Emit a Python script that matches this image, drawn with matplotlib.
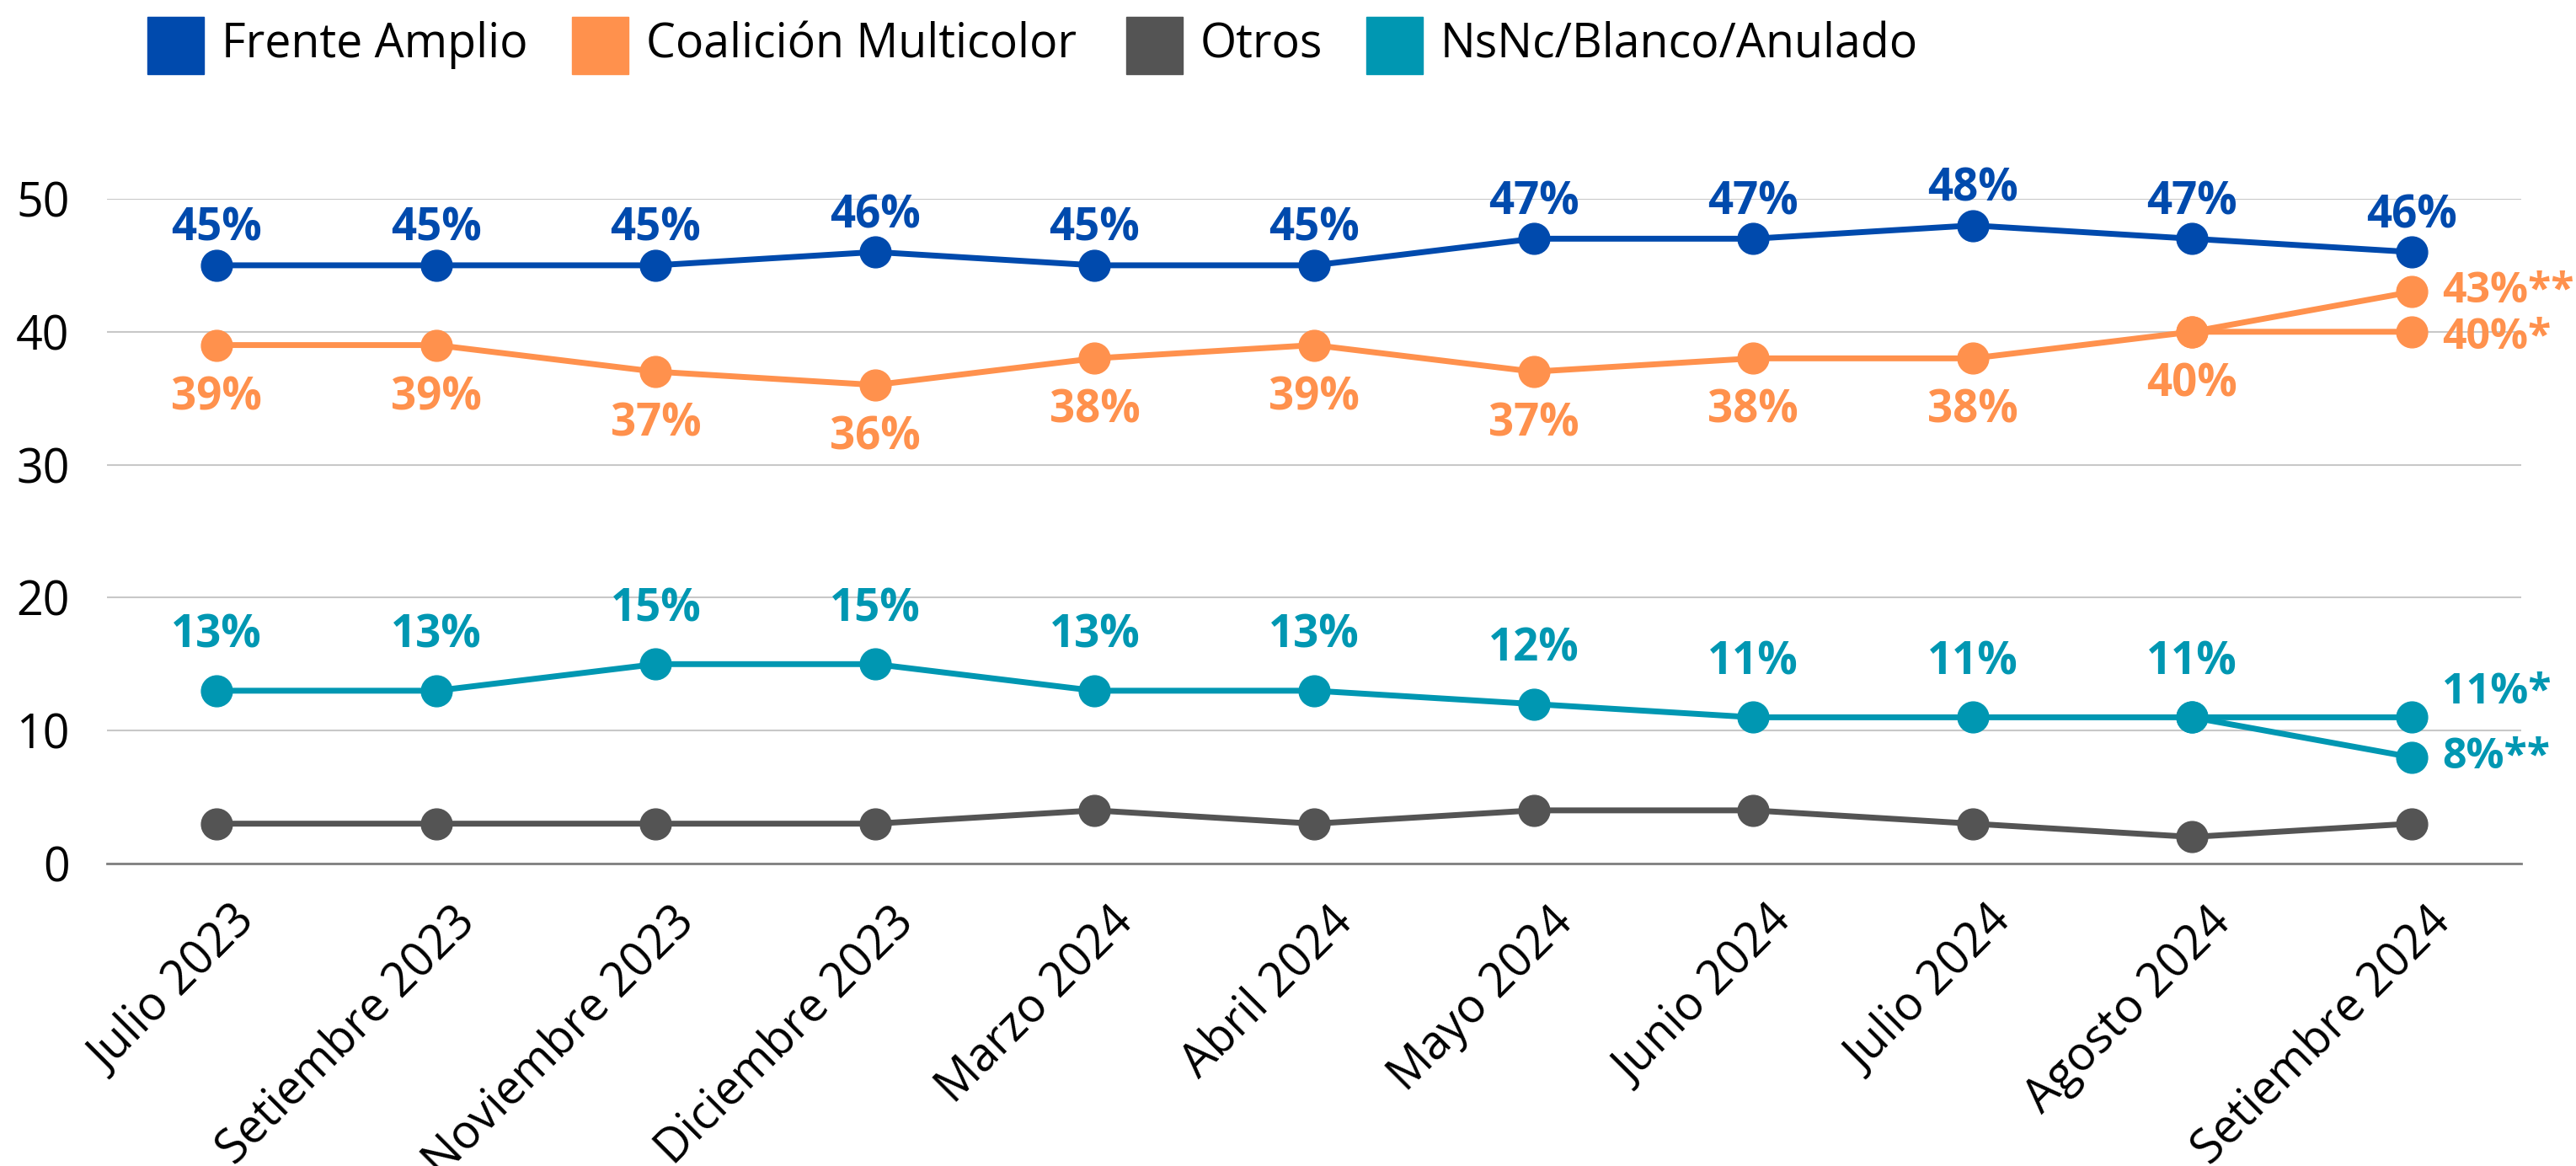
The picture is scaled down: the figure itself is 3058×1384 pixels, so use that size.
import matplotlib
matplotlib.use("Agg")
import matplotlib.pyplot as plt
from matplotlib.patches import Rectangle
from matplotlib.transforms import ScaledTranslation

plt.rcParams['font.family'] = ['Open Sans', 'DejaVu Sans']

categories = ["Julio 2023", "Setiembre 2023", "Noviembre 2023", "Diciembre 2023",
              "Marzo 2024", "Abril 2024", "Mayo 2024", "Junio 2024", "Julio 2024",
              "Agosto 2024", "Setiembre 2024"]
frente_amplio = [45, 45, 45, 46, 45, 45, 47, 47, 48, 47, 46]
coalicion = [39, 39, 37, 36, 38, 39, 37, 38, 38, 40, 40]
otros = [3, 3, 3, 3, 4, 3, 4, 4, 3, 2, 3]
nsnc = [13, 13, 15, 15, 13, 13, 12, 11, 11, 11, 11]
# alternative last values (**)
coalicion_alt_last = 43
nsnc_alt_last = 8

series_names = ["Frente Amplio", "Coalición Multicolor", "Otros", "NsNc/Blanco/Anulado"]
colors = ["#004AAD", "#FF914D", "#545454", "#0097B2"]

W, H = 3058, 1384
fig = plt.figure(figsize=(W / 100, H / 100), dpi=100)
ax = fig.add_axes([127 / W, 1 - 1025 / H, (2993 - 127) / W, (1025 - 236) / H])

x = list(range(len(categories)))
lw = 5
ms = 26.5

# Otros
ax.plot(x, otros, color=colors[2], lw=lw, marker='o', ms=ms, zorder=3, clip_on=False)
# NsNc
ax.plot(x[-2:], [nsnc[-2], nsnc_alt_last], color=colors[3], lw=lw, marker='o', ms=ms, zorder=3, clip_on=False)
ax.plot(x, nsnc, color=colors[3], lw=lw, marker='o', ms=ms, zorder=4, clip_on=False)
# Coalicion
ax.plot(x, coalicion, color=colors[1], lw=lw, marker='o', ms=ms, zorder=4, clip_on=False)
ax.plot(x[-2:], [coalicion[-2], coalicion_alt_last], color=colors[1], lw=lw, marker='o', ms=ms, zorder=5, clip_on=False)
# Frente Amplio
ax.plot(x, frente_amplio, color=colors[0], lw=lw, marker='o', ms=ms, zorder=5, clip_on=False)

def lab(xi, yi, txt, color, dx, dy, ha='center', fs=38):
    ax.annotate(txt, (xi, yi), xytext=(dx, dy), textcoords='offset points',
                ha=ha, va='center', color=color, fontsize=fs, fontweight='bold',
                annotation_clip=False)

for i, v in enumerate(frente_amplio):
    lab(i, v, f"{v}%", colors[0], 0, 31)
for i, v in enumerate(coalicion[:-1]):
    lab(i, v, f"{v}%", colors[1], 0, -45)
for i, v in enumerate(nsnc[:-1]):
    lab(i, v, f"{v}%", colors[3], 0, 47)

last = len(categories) - 1
side_fs = 36
lab(last, coalicion_alt_last, f"{coalicion_alt_last}%**", colors[1], 26, 0, ha='left', fs=side_fs)
lab(last, coalicion[-1], f"{coalicion[-1]}%*", colors[1], 26, -5, ha='left', fs=side_fs)
lab(last, nsnc[-1], f"{nsnc[-1]}%*", colors[3], 26, 21, ha='left', fs=side_fs)
lab(last, nsnc_alt_last, f"{nsnc_alt_last}%**", colors[3], 26, 0, ha='left', fs=side_fs)

ax.set_xlim(-0.5, len(categories) - 0.5)
ax.set_ylim(0, 50)
ax.set_yticks([0, 10, 20, 30, 40, 50])
ax.grid(axis='y', color='#C8C8C8', lw=1.5, zorder=0)
ax.set_axisbelow(True)
for s in ['top', 'right', 'left']:
    ax.spines[s].set_visible(False)
ax.spines['bottom'].set_color('#808080')
ax.spines['bottom'].set_linewidth(2)
ax.tick_params(axis='both', length=0, labelsize=40)
ax.tick_params(axis='y', pad=32)
ax.tick_params(axis='x', pad=30)
ax.set_xticks(x)
ax.set_xticklabels(categories, rotation=45, ha='right', rotation_mode='anchor')
off = ScaledTranslation(18 / 100, 0, fig.dpi_scale_trans)
for t in ax.get_xticklabels():
    t.set_transform(t.get_transform() + off)

# Legend (manual)
sq = 67
sq_x = [175, 679, 1337, 1622]
ly = 54
for sx, name, c in zip(sq_x, series_names, colors):
    fig.patches.append(Rectangle((sx / W, 1 - (ly + sq / 2) / H), sq / W, sq / H,
                                 transform=fig.transFigure, color=c, figure=fig))
    fig.text((sx + sq + 21) / W, 1 - ly / H, name, fontsize=40, va='center', ha='left')

fig.savefig("out.png", dpi=100)
